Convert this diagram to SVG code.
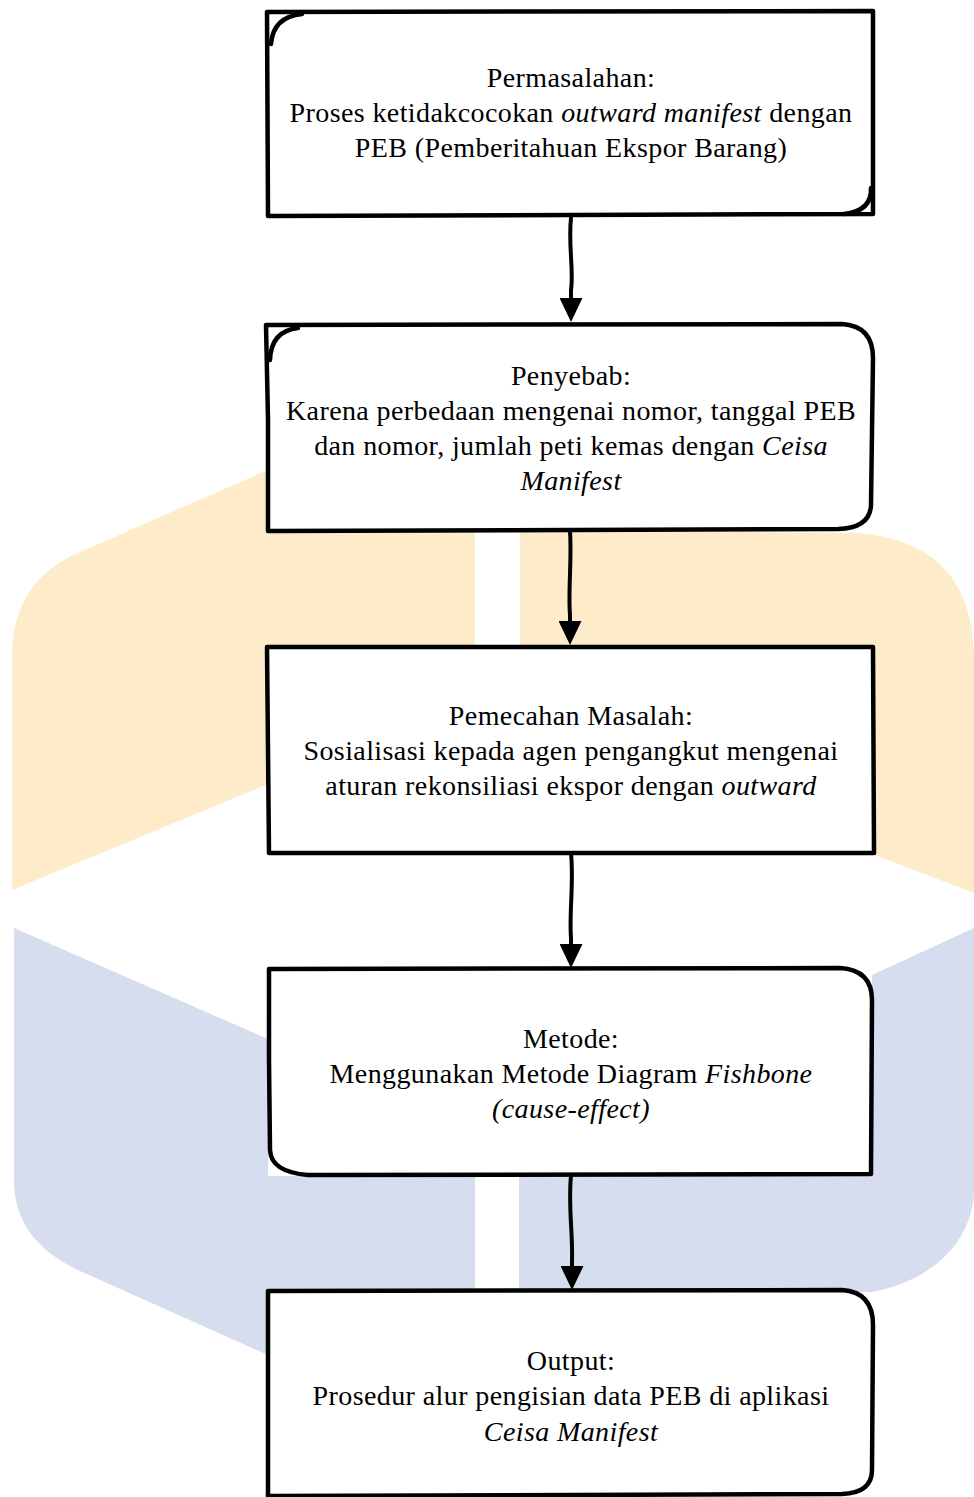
<svg xmlns="http://www.w3.org/2000/svg" width="974" height="1497" viewBox="0 0 974 1497">
<style>
.bg{fill:#ffffff}
.wy{fill:#fdebca}
.wb{fill:#d6ddee}
.box{fill:#ffffff;stroke:#000;stroke-width:4.5;stroke-linejoin:round;stroke-linecap:round}
.sk{fill:none;stroke:#000;stroke-width:4.5;stroke-linecap:round}
.t{font-family:'Liberation Serif','Times New Roman','DejaVu Serif',serif;font-size:28px;letter-spacing:0.4px;fill:#000;text-anchor:middle}
.i{font-style:italic}
.ln{fill:none;stroke:#000;stroke-width:4;stroke-linecap:round}
</style>
<defs>
<marker id="ah" viewBox="0 0 24 23" refX="12" refY="11.5" markerWidth="24" markerHeight="23" markerUnits="userSpaceOnUse" orient="auto">
<path d="M0,0 L24,11.5 L0,23 Z" fill="#000"/>
</marker>
</defs>
<rect class="bg" x="0" y="0" width="974" height="1497"/>
<g id="watermark">
<path class="wy" d="M12,890 L12,652 Q14,580 80,552 L268,470 L475,470 L475,648 L268,648 L268,784 Z"/>
<path class="wy" d="M520,530 L858,533 C940,540 972,585 974,655 L974,893 L875,855 L875,648 L520,648 Z"/>
<path class="wb" d="M14,928 L268,1039 L268,1176 L475,1176 L475,1292 L268,1292 L268,1355 L80,1271 C35,1250 14,1220 14,1180 Z"/>
<path class="wb" d="M519,1176 L872,1176 L872,975 L974,928 L974,1192 C972,1240 935,1280 872,1292 L519,1292 Z"/>
</g>
<g id="connectors">
<path class="ln" d="M571,218 C568,245 574,270 571,290 L571,310" marker-end="url(#ah)"/>
<path class="ln" d="M570,531 C572,560 568,590 570,615 L570,633" marker-end="url(#ah)"/>
<path class="ln" d="M571,854 C574,880 569,915 571,938 L571,956" marker-end="url(#ah)"/>
<path class="ln" d="M571,1176 C568,1205 573,1235 572,1260 L572,1278" marker-end="url(#ah)"/>
</g>
<g id="node1">
<path class="box" d="M267,12 L873,11 L873,214 L268,216 Z"/>
<path class="sk" d="M302,14 Q273,17 271,44"/>
<path class="sk" d="M871,188 Q872,211 844,214"/>
<text class="t" x="571" y="87">Permasalahan:</text>
<text class="t" x="571" y="122">Proses ketidakcocokan <tspan class="i">outward manifest</tspan> dengan</text>
<text class="t" x="571" y="157">PEB (Pemberitahuan Ekspor Barang)</text>
</g>
<g id="node2">
<path class="box" d="M266,325 L842,324 Q873,326 873,358 L871,505 Q870,528 838,529 L268,531 L268,420 Z"/>
<path class="sk" d="M298,328 Q271,331 270,360"/>
<text class="t" x="571" y="385">Penyebab:</text>
<text class="t" x="571" y="420">Karena perbedaan mengenai nomor, tanggal PEB</text>
<text class="t" x="571" y="455">dan nomor, jumlah peti kemas dengan <tspan class="i">Ceisa</tspan></text>
<text class="t i" x="571" y="490">Manifest</text>
</g>
<g id="node3">
<path class="box" d="M267,647 L873,647 L874,853 L269,853 L268,750 Z"/>
<text class="t" x="571" y="725">Pemecahan Masalah:</text>
<text class="t" x="571" y="760">Sosialisasi kepada agen pengangkut mengenai</text>
<text class="t" x="571" y="795">aturan rekonsiliasi ekspor dengan <tspan class="i">outward</tspan></text>
</g>
<g id="node4">
<path class="box" d="M269,969 L840,968 Q872,970 872,1000 L871,1174 L308,1175 Q271,1172 270,1150 L269,1060 Z"/>
<text class="t" x="571" y="1048">Metode:</text>
<text class="t" x="571" y="1083">Menggunakan Metode Diagram <tspan class="i">Fishbone</tspan></text>
<text class="t i" x="571" y="1118">(cause-effect)</text>
</g>
<g id="node5">
<path class="box" d="M268,1291 L842,1290 Q873,1292 873,1325 L872,1470 Q872,1493 842,1494 L268,1496 Z"/>
<text class="t" x="571" y="1370">Output:</text>
<text class="t" x="571" y="1405">Prosedur alur pengisian data PEB di aplikasi</text>
<text class="t i" x="571" y="1441">Ceisa Manifest</text>
</g>
</svg>
